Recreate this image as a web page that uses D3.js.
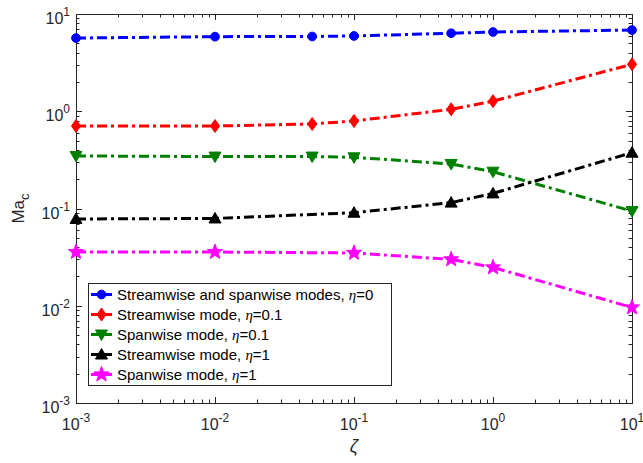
<!DOCTYPE html>
<html>
<head>
<meta charset="utf-8">
<script src="https://cdn.jsdelivr.net/npm/d3@7"></script>
<style>
  body { margin: 0; background: #fff; }
  svg { display: block; }
  text { font-family: "Liberation Sans", Arial, sans-serif; }
</style>
</head>
<body>
<div id="chart"></div>
<script>
// zeta values
let zetaAll = [0.001, 0.01, 0.05, 0.1, 0.5, 1, 10];
let zetaShort = [0.001, 0.01, 0.1, 0.5, 1, 10];

// critical Mach numbers
let blueVals = [5.66, 5.85, 5.87, 5.95, 6.34, 6.53, 6.84];
let redVals = [0.705, 0.705, 0.74, 0.794, 1.047, 1.27, 3.04];
let greenVals = [0.347, 0.342, 0.342, 0.336, 0.287, 0.239, 0.094];
let blackVals = [0.078, 0.079, 0.0905, 0.115, 0.143, 0.375];
let magentaVals = [0.0357, 0.0357, 0.0349, 0.030, 0.0248, 0.0096];

let legendLabels = [
  ['Streamwise and spanwise modes, ', '=0'],
  ['Streamwise mode, ', '=0.1'],
  ['Spanwise mode, ', '=0.1'],
  ['Streamwise mode, ', '=1'],
  ['Spanwise mode, ', '=1']
];

let xExps = [-3, -2, -1, 0, 1];
let yExps = [-3, -2, -1, 0, 1];

let series = [
  { x: zetaAll, y: blueVals, color: '#0000ff', marker: 'circle' },
  { x: zetaAll, y: redVals, color: '#ff0000', marker: 'diamond' },
  { x: zetaAll, y: greenVals, color: '#008000', marker: 'down' },
  { x: zetaShort, y: blackVals, color: '#000000', marker: 'up' },
  { x: zetaShort, y: magentaVals, color: '#ff00ff', marker: 'star' }
];

let width = 643, height = 463;
let margin = { left: 76, right: 11, top: 14, bottom: 60 };
let innerW = width - margin.left - margin.right;
let innerH = height - margin.top - margin.bottom;

let svg = d3.select('#chart').append('svg')
  .attr('width', width).attr('height', height);

let g = svg.append('g').attr('transform', 'translate(' + margin.left + ',' + margin.top + ')');

let xScale = d3.scaleLog().domain([1e-3, 10]).range([0, innerW]);
let yScale = d3.scaleLog().domain([1e-3, 10]).range([innerH, 0]);

let axisColor = '#262626';

/// ticks on all four sides, pointing inward
let xTicks = xScale.ticks();
let yTicks = yScale.ticks();
function isMajor(v) { return Math.abs(Math.log10(v) - Math.round(Math.log10(v))) < 1e-9; }

let ticks = g.append('g').attr('stroke', axisColor).attr('stroke-width', 1);
xTicks.forEach(function(v) {
  let len = isMajor(v) ? 6 : 3.5;
  let x = Math.round(xScale(v)) + 0.5;
  ticks.append('line').attr('x1', x).attr('x2', x).attr('y1', innerH).attr('y2', innerH - len);
  ticks.append('line').attr('x1', x).attr('x2', x).attr('y1', 0).attr('y2', len);
});
yTicks.forEach(function(v) {
  let len = isMajor(v) ? 6 : 3.5;
  let y = Math.round(yScale(v)) + 0.5;
  ticks.append('line').attr('x1', 0).attr('x2', len).attr('y1', y).attr('y2', y);
  ticks.append('line').attr('x1', innerW).attr('x2', innerW - len).attr('y1', y).attr('y2', y);
});

/// axis box
g.append('rect')
  .attr('x', 0.5).attr('y', 0.5)
  .attr('width', innerW).attr('height', innerH)
  .attr('fill', 'none').attr('stroke', axisColor).attr('stroke-width', 1);

/// tick labels
xExps.forEach(function(e) {
  let t = g.append('text')
    .attr('x', xScale(Math.pow(10, e)))
    .attr('y', innerH + 27)
    .attr('text-anchor', 'middle')
    .attr('font-size', 16)
    .attr('fill', axisColor);
  t.append('tspan').text('10');
  t.append('tspan').attr('dy', -8).attr('font-size', 12).text(e);
});
yExps.forEach(function(e) {
  let t = g.append('text')
    .attr('x', -6)
    .attr('y', yScale(Math.pow(10, e)) + 10)
    .attr('text-anchor', 'end')
    .attr('font-size', 16)
    .attr('fill', axisColor);
  t.append('tspan').text('10');
  t.append('tspan').attr('dy', -8).attr('font-size', 12).text(e);
});

/// axis titles
let yl = svg.append('text')
  .attr('transform', 'translate(24,' + (margin.top + innerH / 2) + ') rotate(-90)')
  .attr('text-anchor', 'middle')
  .attr('font-size', 17)
  .attr('fill', axisColor);
yl.append('tspan').text('Ma');
yl.append('tspan').attr('dy', 5).attr('font-size', 13).text('c');

svg.append('text')
  .attr('x', margin.left + innerW / 2)
  .attr('y', 452)
  .attr('text-anchor', 'middle')
  .attr('font-family', '"Liberation Serif", "DejaVu Serif", serif')
  .attr('font-style', 'italic')
  .attr('font-size', 18)
  .attr('fill', axisColor)
  .text('ζ');

/// marker shapes
function markerPath(type) {
  if (type === 'circle') return d3.symbol(d3.symbolCircle, 60)();
  if (type === 'diamond') return 'M0,-6.5L4.5,0L0,6.5L-4.5,0Z';
  if (type === 'down') return 'M-6,-4.5L6,-4.5L0,6Z';
  if (type === 'up') return 'M-6,4.5L6,4.5L0,-6Z';
  if (type === 'star') {
    let pts = [];
    for (let i = 0; i < 10; i++) {
      let r = i % 2 === 0 ? 8 : 3.3;
      let a = -Math.PI / 2 + i * Math.PI / 5;
      pts.push([r * Math.cos(a), r * Math.sin(a)]);
    }
    return 'M' + pts.join('L') + 'Z';
  }
}

let line = d3.line()
  .x(function(d) { return xScale(d[0]); })
  .y(function(d) { return yScale(d[1]); });

series.forEach(function(s) {
  let pts = s.x.map(function(x, i) { return [x, s.y[i]]; });
  g.append('path')
    .datum(pts)
    .attr('d', line)
    .attr('fill', 'none')
    .attr('stroke', s.color)
    .attr('stroke-width', 3)
    .attr('stroke-dasharray', '10,4,3,4');
  g.selectAll(null)
    .data(pts)
    .enter().append('path')
    .attr('transform', function(d) { return 'translate(' + xScale(d[0]) + ',' + yScale(d[1]) + ')'; })
    .attr('d', markerPath(s.marker))
    .attr('fill', s.color)
    .attr('stroke', s.color)
    .attr('stroke-width', 1);
});

/// legend
let legend = svg.append('g').attr('transform', 'translate(88,283)');
legend.append('rect')
  .attr('x', 0.5).attr('y', 0.5)
  .attr('width', 303).attr('height', 102)
  .attr('fill', '#fff').attr('stroke', axisColor).attr('stroke-width', 1);

series.forEach(function(s, i) {
  let row = legend.append('g').attr('transform', 'translate(0,' + (11.5 + i * 20) + ')');
  row.append('line')
    .attr('x1', 3).attr('x2', 24).attr('y1', 0).attr('y2', 0)
    .attr('stroke', s.color).attr('stroke-width', 3);
  row.append('path')
    .attr('transform', 'translate(13.5,0)')
    .attr('d', markerPath(s.marker))
    .attr('fill', s.color).attr('stroke', s.color);
  let t = row.append('text')
    .attr('x', 29).attr('y', 5.5)
    .attr('font-size', 15)
    .attr('fill', '#000');
  t.append('tspan').text(legendLabels[i][0]);
  t.append('tspan')
    .attr('font-family', '"Liberation Serif", "DejaVu Serif", serif')
    .attr('font-style', 'italic')
    .text('η');
  t.append('tspan').text(legendLabels[i][1]);
});
</script>
</body>
</html>
